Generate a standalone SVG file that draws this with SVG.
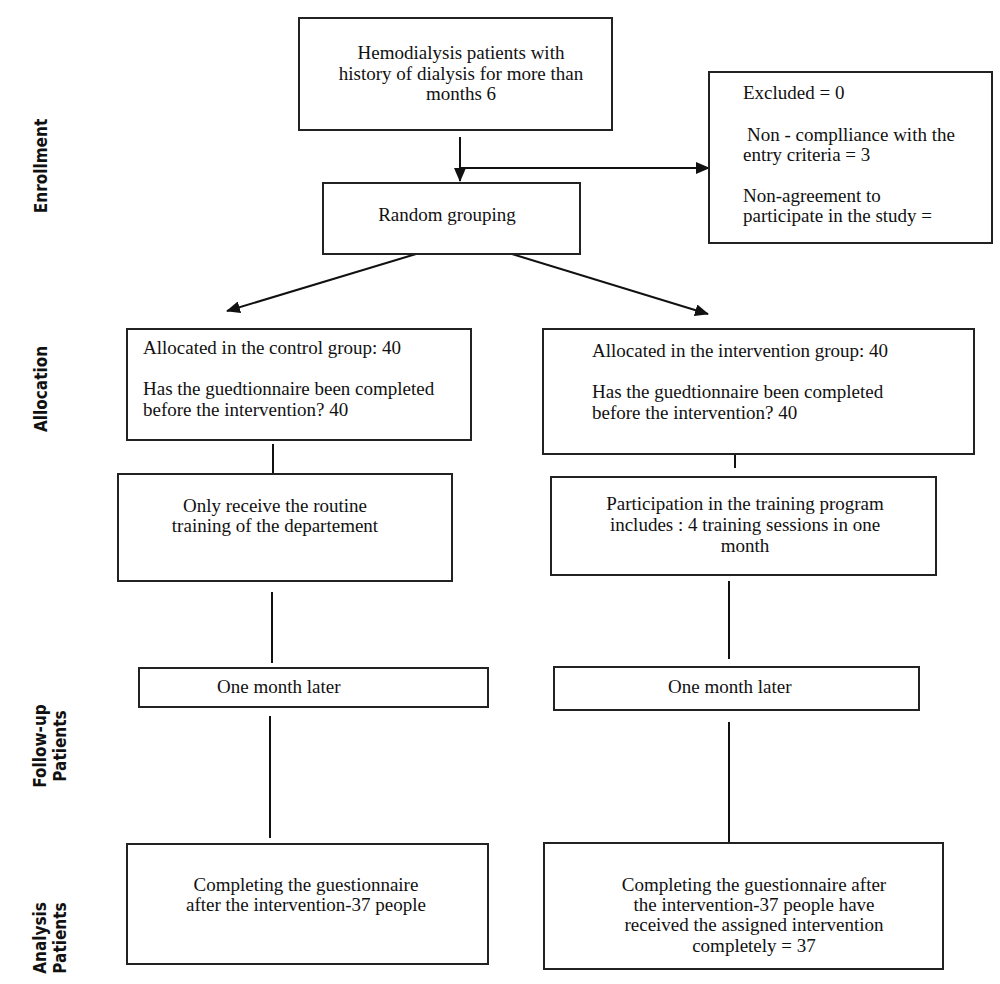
<svg xmlns="http://www.w3.org/2000/svg" width="1000" height="984" viewBox="0 0 1000 984">
<style>
.box{fill:#fff;stroke:#222;stroke-width:2}
.t{font-family:"Liberation Serif","DejaVu Serif",serif;font-size:19px;fill:#111}
.c{text-anchor:middle}
.side{font-family:"Liberation Sans Narrow","DejaVu Sans Condensed","Liberation Sans",sans-serif;font-weight:bold;font-size:17px;fill:#111;text-anchor:middle}
.ln{stroke:#111;stroke-width:2;fill:none}
</style>
<defs>
<marker id="ah" markerWidth="14" markerHeight="12" refX="13" refY="6" orient="auto" markerUnits="userSpaceOnUse" viewBox="0 0 14 12">
<path d="M0,0 L14,6 L0,12 z" fill="#111"/>
</marker>
</defs>
<rect width="1000" height="984" fill="#fff"/>
<g id="labels">
<text class="side" transform="translate(47,166) rotate(-90)">Enrollment</text>
<text class="side" transform="translate(47,389) rotate(-90)">Allocation</text>
<text class="side" transform="translate(46,746) rotate(-90)"><tspan x="0" y="0">Follow-up</tspan><tspan x="0" y="20">Patients</tspan></text>
<text class="side" transform="translate(46,938) rotate(-90)"><tspan x="0" y="0">Analysis</tspan><tspan x="0" y="20">Patients</tspan></text>
</g>
<g id="connectors">
<line class="ln" x1="460" y1="137" x2="460" y2="181" marker-end="url(#ah)"/>
<line class="ln" x1="460" y1="168" x2="709" y2="168" marker-end="url(#ah)"/>
<line class="ln" x1="416" y1="254" x2="227" y2="311" marker-end="url(#ah)"/>
<line class="ln" x1="512" y1="254" x2="708" y2="314" marker-end="url(#ah)"/>
<line class="ln" x1="273" y1="444" x2="273" y2="474"/>
<line class="ln" x1="735" y1="455" x2="735" y2="468"/>
<line class="ln" x1="272" y1="592" x2="272" y2="663"/>
<line class="ln" x1="729" y1="581" x2="729" y2="659"/>
<line class="ln" x1="270" y1="716" x2="270" y2="838"/>
<line class="ln" x1="729" y1="722" x2="729" y2="842"/>
</g>
<g id="n-start">
<rect class="box" x="299" y="18" width="313" height="112"/>
<text class="t c" x="461" y="59">Hemodialysis patients with</text>
<text class="t c" x="461" y="80">history of dialysis for more than</text>
<text class="t c" x="461" y="100">months 6</text>
</g>
<g id="n-excluded">
<rect class="box" x="709" y="72" width="283" height="171"/>
<text class="t" x="743" y="99">Excluded = 0</text>
<text class="t" x="747" y="141">Non - complliance with the</text>
<text class="t" x="743" y="161">entry criteria = 3</text>
<text class="t" x="743" y="202">Non-agreement to</text>
<text class="t" x="743" y="222">participate in the study =</text>
</g>
<g id="n-random">
<rect class="box" x="323" y="183" width="257" height="71"/>
<text class="t c" x="447" y="221">Random grouping</text>
</g>
<g id="n-alloc-control">
<rect class="box" x="127" y="329" width="344" height="111"/>
<text class="t" x="143" y="354">Allocated in the control group: 40</text>
<text class="t" x="143" y="395">Has the guedtionnaire been completed</text>
<text class="t" x="143" y="416">before the intervention? 40</text>
</g>
<g id="n-alloc-interv">
<rect class="box" x="543" y="329" width="431" height="125"/>
<text class="t" x="592" y="357">Allocated in the intervention group: 40</text>
<text class="t" x="592" y="398">Has the guedtionnaire been completed</text>
<text class="t" x="592" y="419">before the intervention? 40</text>
</g>
<g id="n-routine">
<rect class="box" x="118" y="474" width="334" height="107"/>
<text class="t c" x="275" y="512">Only receive the routine</text>
<text class="t c" x="275" y="532">training of the departement</text>
</g>
<g id="n-training">
<rect class="box" x="551" y="477" width="385" height="98"/>
<text class="t c" x="745" y="510">Participation in the training program</text>
<text class="t c" x="745" y="531">includes : 4 training sessions in one</text>
<text class="t c" x="745" y="552">month</text>
</g>
<g id="n-follow-left">
<rect class="box" x="139" y="668" width="349" height="39"/>
<text class="t" x="217" y="693">One month later</text>
</g>
<g id="n-follow-right">
<rect class="box" x="554" y="667" width="365" height="43"/>
<text class="t" x="668" y="693">One month later</text>
</g>
<g id="n-analysis-left">
<rect class="box" x="127" y="844" width="361" height="120"/>
<text class="t c" x="306" y="891">Completing the guestionnaire</text>
<text class="t c" x="306" y="911">after the intervention-37 people</text>
</g>
<g id="n-analysis-right">
<rect class="box" x="544" y="843" width="399" height="126"/>
<text class="t c" x="754" y="891">Completing the guestionnaire after</text>
<text class="t c" x="754" y="911">the intervention-37 people have</text>
<text class="t c" x="754" y="931">received the assigned intervention</text>
<text class="t c" x="754" y="952">completely = 37</text>
</g>
</svg>
